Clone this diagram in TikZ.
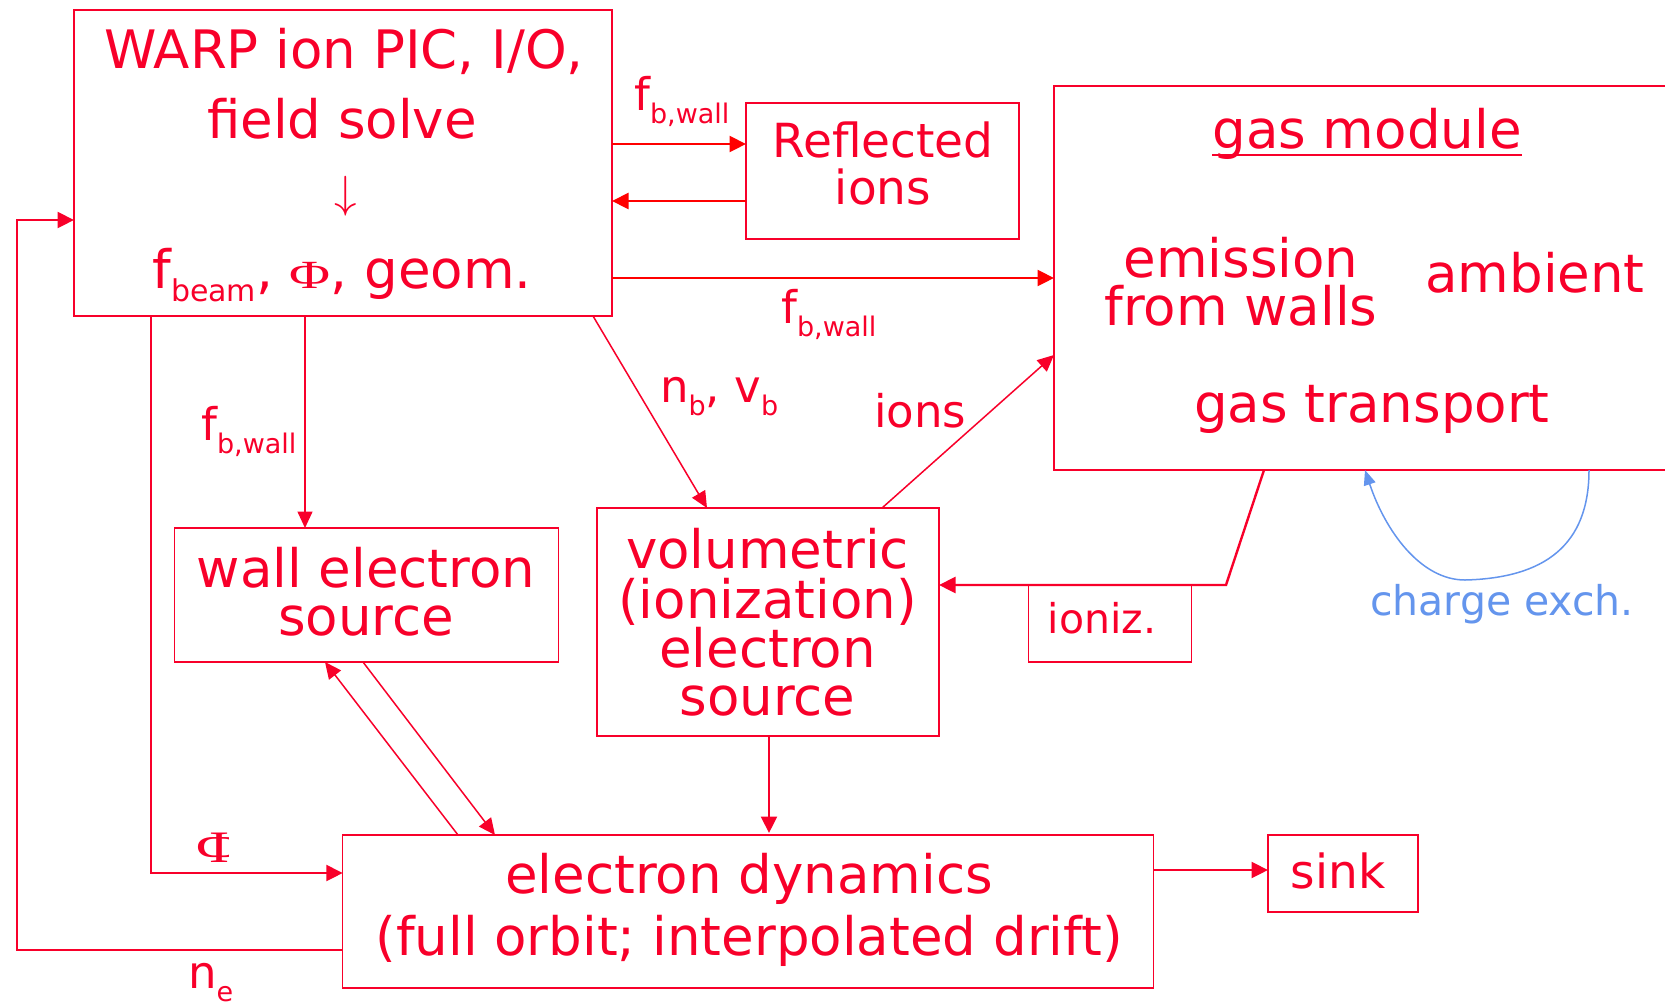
\documentclass[tikz,border=0pt]{standalone}
\usepackage{fontspec}
\setmainfont{DejaVu Sans}
\newfontfamily\phifont{Liberation Serif}
\usetikzlibrary{arrows.meta}
\definecolor{cred}{RGB}{248,0,42}
\definecolor{pred}{RGB}{255,0,0}
\definecolor{cblue}{RGB}{100,149,237}
\newcommand{\fsz}[1]{\fontsize{#1}{#1}\selectfont}
\newcommand{\sbx}[3]{\raisebox{-#1pt}{\fsz{#2}#3}}
\newcommand{\bigphi}[1]{{\phifont\fsz{#1}\scalebox{1.4}[1]{Φ}}}
\begin{document}
\begin{tikzpicture}[x=1pt,y=-1pt,
  box/.style={draw=cred, line width=1.2pt, inner sep=0pt, outer sep=0pt},
  txt/.style={text=cred, inner sep=0pt, font=\fsz{53}},
  mid/.style={text=cred, inner sep=0pt, font=\fsz{47}},
  lbl/.style={text=cred, inner sep=0pt, font=\fsz{45}, anchor=base west},
  arr/.style={draw=cred, line width=2.2pt, -{Triangle[length=16.5pt,width=16pt]}},
  arrt/.style={draw=cred, line width=1.5pt, -{Triangle[length=16.5pt,width=15pt]}}]
\useasboundingbox (0,0) rectangle (1665,1002);
\clip (0,0) rectangle (1665,1002);
% boxes
\node[box, minimum width=538pt, minimum height=306pt] (warp) at (343,163) {};
\node[box, minimum width=273pt, minimum height=136pt] (refl) at (882.5,171) {};
\node[box, minimum width=621pt, minimum height=384pt] (gas) at (1364.5,278) {};
\node[box, minimum width=384pt, minimum height=134pt] (wall) at (366.5,595) {};
\node[box, minimum width=342pt, minimum height=228pt] (vol) at (768,622) {};
\node[box, minimum width=163.5pt, minimum height=77pt] (ioniz) at (1110,623.5) {};
\node[box, minimum width=810.5pt, minimum height=153pt] (edyn) at (748,911.5) {};
\node[box, minimum width=150pt, minimum height=77pt] (sink) at (1343,873.5) {};
% texts in WARP
\node[txt, anchor=base] (w1) at (344,68) {WARP ion PIC, I/O,};
\node[txt, anchor=base] (w2) at (342,138) {field solve};
\node[text=cred, inner sep=0pt] (w3) at (346,196) {\scalebox{4.5}{$\downarrow$}};
\node[txt, anchor=base] (w4) at (342,288) {f\sbx{13}{30}{beam}, \bigphi{40}, geom.};
% reflected
\node[mid, anchor=base] (r1) at (883,157) {Reflected};
\node[mid, anchor=base] (r2) at (883,204) {ions};
% gas module
\node[txt, anchor=base] (gm) at (1367,148) {gas module};
\draw[cred, line width=2.4pt] ([yshift=-7pt]gm.base west) -- ([yshift=-7pt]gm.base east);
\node[txt, anchor=base] (g1) at (1241,277) {emission};
\node[txt, anchor=base] (g2) at (1241,325) {from walls};
\node[txt, anchor=base] (g3) at (1535,292) {ambient};
\node[txt, anchor=base] (g4) at (1372,422) {gas transport};
% wall
\node[txt, anchor=base] (wa1) at (366,587) {wall electron};
\node[txt, anchor=base] (wa2) at (366,635) {source};
% volumetric
\node[txt, anchor=base] (v1) at (767.5,568) {volumetric};
\node[txt, anchor=base] (v2) at (767.5,618) {(ionization)};
\node[txt, anchor=base] (v3) at (767.5,667) {electron};
\node[txt, anchor=base] (v4) at (767.5,715) {source};
% electron dynamics
\node[txt, anchor=base] (e1) at (749,893) {electron dynamics};
\node[txt, anchor=base] (e2) at (749,955) {(full orbit; interpolated drift)};
% sink, ioniz
\node[mid, anchor=base] (s1) at (1338,888) {sink};
\node[txt, font=\fsz{41}, anchor=base] (i1) at (1102,633) {ioniz.};
\node[text=cblue, inner sep=0pt, font=\fsz{41}, anchor=base] (ce) at (1502,615) {charge exch.};
% labels
\node[lbl] (l1) at (634,110) {f\sbx{13}{27}{b,wall}};
\node[lbl] (l2) at (781,323) {f\sbx{13}{27}{b,wall}};
\node[lbl] (l3) at (201,440) {f\sbx{13}{27}{b,wall}};
\node[lbl] (l4) at (660,402) {n\sbx{13}{27}{b}, v\sbx{13}{27}{b}};
\node[lbl] (l5) at (874,427) {ions};
\node[lbl] (l6) at (188,988) {n\sbx{13}{27}{e}};
\begin{scope}
\clip (190,820) rectangle (228,875);
\node[text=cred, inner sep=0pt, anchor=base] (l7) at (220,862) {\bigphi{45}};
\end{scope}
% connectors
\draw[arr, draw=pred] (warp.east |- 0,144) -- (refl.west |- 0,144);
\draw[arr, draw=pred] (refl.west |- 0,201) -- (warp.east |- 0,201);
\draw[arr, draw=pred] (warp.east |- 0,278) -- (gas.west |- 0,278);
\draw[arrt] (warp.south -| 305,0) -- (wall.north -| 305,0);
\draw[arrt] (warp.south -| 593,0) -- (vol.north -| 707,0);
\draw[arrt] (vol.north -| 882,0) -- (gas.west |- 0,355);
\coordinate (ibend) at (1226,585);
\draw[arr, line width=2.4pt] (gas.south -| 1264,0) -- (ibend) -- (vol.east |- ibend);
\draw[arr] (vol.south -| 769,0) -- ([yshift=2pt]edyn.north -| 769,0);
\draw[arrt] (edyn.north -| 458,0) -- (wall.south -| 325,0);
\draw[arrt] (wall.south -| 363,0) -- (edyn.north -| 495,0);
\draw[arr] (warp.south -| 151,0) |- (edyn.west |- 0,873);
\coordinate (lcorner) at (17,220);
\draw[arr] (edyn.west |- 0,950) -| (lcorner) -- (warp.west |- lcorner);
\draw[arr, line width=2.4pt] (edyn.east |- 0,870) -- (sink.west |- 0,870);
\draw[cblue, line width=1.5pt, -{Triangle[length=15pt,width=12pt]}] (gas.south -| 1589,0) .. controls (1589,545) and (1545,578) .. (1465,580) .. controls (1420,580) and (1385,530) .. (gas.south -| 1365,0);
\end{tikzpicture}
\end{document}
